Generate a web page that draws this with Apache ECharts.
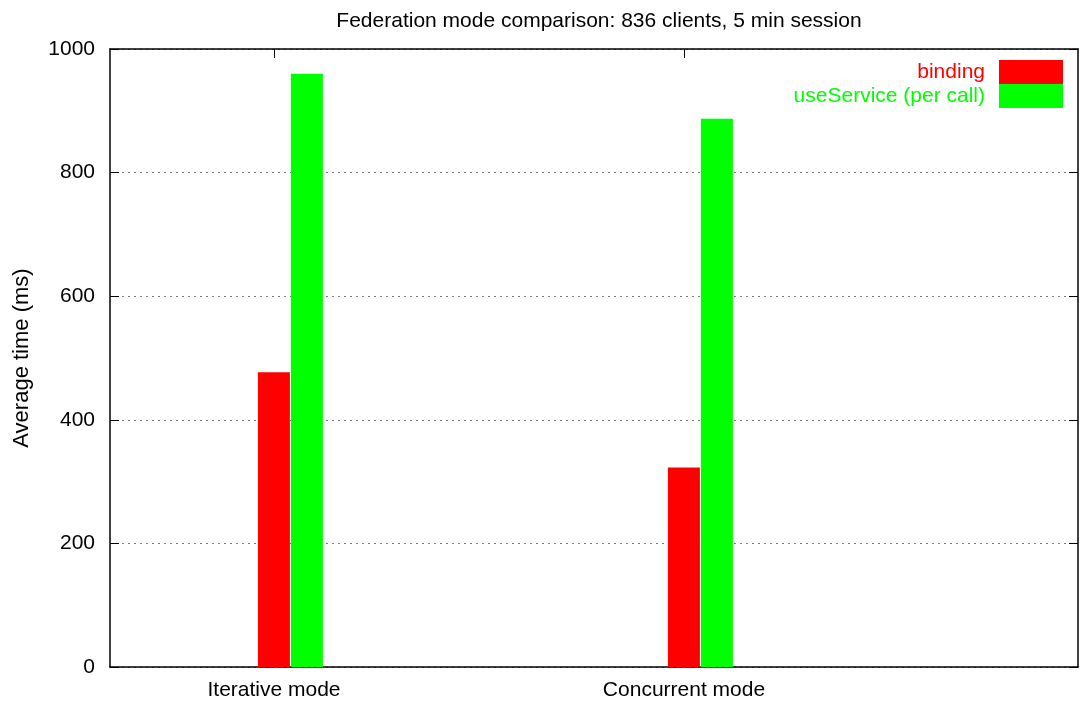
<!DOCTYPE html>
<html>
<head>
<meta charset="utf-8">
<script src="https://cdn.jsdelivr.net/npm/echarts@6/dist/echarts.min.js"></script>
<style>html,body{margin:0;padding:0;background:#fff}#c{width:1088px;height:702px}</style>
</head>
<body>
<div id="c"></div>
<script>
var categories = ['Iterative mode', 'Concurrent mode'];
var groupPositions = [0, 1];
var bindingValues = [477, 323];
var useServiceValues = [960, 887];
var yTicks = [0, 200, 400, 600, 800, 1000];
var seriesNames = ['binding', 'useService (per call)'];

var FONT = '"Liberation Sans", Arial, Helvetica, sans-serif';
var FS = 21;
var chart = echarts.init(document.getElementById('c'), null, {renderer: 'canvas'});

// label positions: centre of first bar of each cluster (gnuplot style)
var labelPos = groupPositions.map(function (p) { return p - 0.04; });
function catLabel(v) {
  var i = Math.round(v + 0.04);
  return categories[i] || '';
}

var xMin = -0.44, xMax = 1.921;

chart.setOption({
  animation: false,
  backgroundColor: '#fff',
  title: {
    text: 'Federation mode comparison: 836 clients, 5 min session',
    left: 594, textAlign: 'center', top: 6,
    textStyle: {fontFamily: FONT, fontSize: FS, fontWeight: 'normal', color: '#000'}
  },
  legend: {
    right: 20, top: 55, orient: 'vertical', align: 'right',
    itemWidth: 64, itemHeight: 24, itemGap: 0,
    icon: 'rect',
    data: [
      {name: seriesNames[0], textStyle: {color: '#ff0000'}},
      {name: seriesNames[1], textStyle: {color: '#00ff00'}}
    ],
    textStyle: {fontFamily: FONT, fontSize: FS, lineHeight: 24, padding: [0, 9, 0, 0]}
  },
  grid: {left: 110, right: 10, top: 49, bottom: 35, containLabel: false},
  xAxis: [{
    type: 'value', min: xMin, max: xMax, position: 'bottom',
    axisLine: {show: true, onZero: false, lineStyle: {color: '#000', width: 1.5}},
    axisTick: {show: true, inside: true, length: 9, customValues: labelPos, lineStyle: {color: '#000'}},
    axisLabel: {show: true, customValues: labelPos, formatter: catLabel, margin: 13,
      fontFamily: FONT, fontSize: FS, color: '#000'},
    splitLine: {show: false}
  }, {
    type: 'value', min: xMin, max: xMax, position: 'top',
    axisLine: {show: true, onZero: false, lineStyle: {color: '#000', width: 1.5}},
    axisTick: {show: true, inside: true, length: 9, customValues: labelPos, lineStyle: {color: '#000'}},
    axisLabel: {show: false},
    splitLine: {show: false}
  }],
  yAxis: [{
    type: 'value', min: 0, max: 1000, interval: 200, position: 'left',
    name: 'Average time (ms)', nameLocation: 'middle', nameGap: 77,
    nameTextStyle: {fontFamily: FONT, fontSize: 22, color: '#000'},
    axisLine: {show: true, onZero: false, lineStyle: {color: '#000', width: 1.5}},
    axisTick: {show: true, inside: true, length: 9, lineStyle: {color: '#000'}},
    axisLabel: {margin: 15, fontFamily: FONT, fontSize: FS, color: '#000',
      formatter: function (v) { return String(v); }},
    splitLine: {show: true, lineStyle: {color: '#777', width: 1, type: [2, 4]}}
  }, {
    type: 'value', min: 0, max: 1000, interval: 200, position: 'right',
    axisLine: {show: true, onZero: false, lineStyle: {color: '#000', width: 1.5}},
    axisTick: {show: true, inside: true, length: 9, lineStyle: {color: '#000'}},
    axisLabel: {show: false},
    splitLine: {show: false}
  }],
  series: [{
    name: seriesNames[0], type: 'bar', xAxisIndex: 0, yAxisIndex: 0,
    barWidth: 32, barGap: '3%',
    itemStyle: {color: '#ff0000'},
    data: groupPositions.map(function (p, i) { return [p, bindingValues[i]]; })
  }, {
    name: seriesNames[1], type: 'bar', xAxisIndex: 0, yAxisIndex: 0,
    barWidth: 32, barGap: '3%',
    itemStyle: {color: '#00ff00'},
    data: groupPositions.map(function (p, i) { return [p, useServiceValues[i]]; })
  }]
});
</script>
</body>
</html>
